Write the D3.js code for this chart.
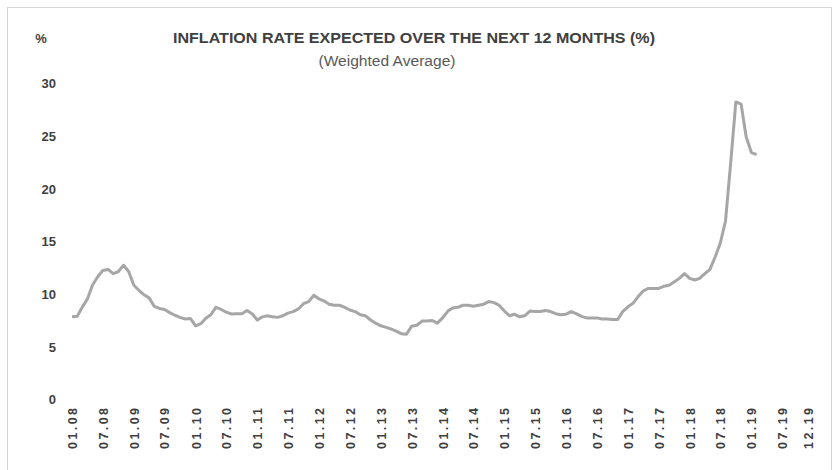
<!DOCTYPE html>
<html>
<head>
<meta charset="utf-8">
<script src="https://cdn.jsdelivr.net/npm/d3@7"></script>
<style>
  html, body { margin: 0; padding: 0; background: #fff; }
  svg { display: block; }
  text { font-family: "Liberation Sans", Arial, sans-serif; }
</style>
</head>
<body>
<svg id="chart" width="836" height="470"></svg>
<script>
// monthly series, first point is 01.08
var firstMonth = "01.08";
var expectations = [
    7.8, 7.85, 8.7, 9.5, 10.8, 11.6, 12.2, 12.3, 11.9, 12.1, 12.7, 12.1,
    10.8, 10.3, 9.9, 9.6, 8.8, 8.6, 8.5, 8.2, 7.95, 7.75, 7.6, 7.65,
    6.95, 7.15, 7.65, 8.0, 8.7, 8.5, 8.25, 8.07, 8.1, 8.1, 8.4, 8.1,
    7.5, 7.8, 7.9, 7.8, 7.75, 7.9, 8.15, 8.3, 8.55, 9.05, 9.25, 9.85,
    9.5, 9.3, 9.0, 8.9, 8.9, 8.7, 8.45, 8.3, 8.0, 7.9, 7.5, 7.2,
    6.95, 6.8, 6.65, 6.45, 6.2, 6.15, 6.9, 7.0, 7.4, 7.4, 7.45, 7.2,
    7.7, 8.35, 8.65, 8.7, 8.9, 8.9, 8.8, 8.9, 9.0, 9.25, 9.15, 8.9,
    8.35, 7.9, 8.05, 7.8, 7.9, 8.35, 8.3, 8.3, 8.4, 8.3, 8.1, 8.0,
    8.05, 8.3, 8.1, 7.85, 7.7, 7.7, 7.7, 7.6, 7.6, 7.55, 7.55, 8.3,
    8.75, 9.1, 9.7, 10.25, 10.5, 10.5, 10.5, 10.7, 10.8, 11.1, 11.45, 11.9,
    11.45, 11.3, 11.45, 11.9, 12.3, 13.5, 14.8, 16.9, 22.5, 28.2, 28.0, 24.9,
    23.4, 23.2
];
var xTickLabels = ["01.08", "07.08", "01.09", "07.09", "01.10", "07.10", "01.11", "07.11",
    "01.12", "07.12", "01.13", "07.13", "01.14", "07.14", "01.15", "07.15",
    "01.16", "07.16", "01.17", "07.17", "01.18", "07.18", "01.19", "07.19", "12.19"];
var yTickValues = [0, 5, 10, 15, 20, 25, 30];
var title = "INFLATION RATE EXPECTED OVER THE NEXT 12 MONTHS (%)";
var subtitle = "(Weighted Average)";
var unitLabel = "%";

var parseMonth = d3.timeParse("%m.%y");
var start = parseMonth(firstMonth);
var data = expectations.map((v, i) => ({ date: d3.timeMonth.offset(start, i), value: v }));

var svg = d3.select("#chart");

// outer frame (bottom edge falls outside the picture)
svg.append("rect")
    .attr("x", 7.5).attr("y", 7.5)
    .attr("width", 824).attr("height", 500)
    .attr("fill", "none")
    .attr("stroke", "#d4d4d4")
    .attr("stroke-width", 1);

var x = d3.scaleTime()
    .domain([parseMonth("01.08"), parseMonth("07.19")])
    .range([72, 782]);
var y = d3.scaleLinear()
    .domain([0, 30])
    .range([399, 83]);

// condensed look: bigger font squeezed to the measured width
svg.append("text")
    .attr("x", 414).attr("y", 43)
    .attr("text-anchor", "middle")
    .attr("font-size", 15.5).attr("font-weight", "bold")
    .attr("fill", "#404040")
    .attr("textLength", 482).attr("lengthAdjust", "spacingAndGlyphs")
    .text(title);

svg.append("text")
    .attr("x", 387).attr("y", 66)
    .attr("text-anchor", "middle")
    .attr("font-size", 14)
    .attr("fill", "#595959")
    .attr("textLength", 137).attr("lengthAdjust", "spacingAndGlyphs")
    .text(subtitle);

svg.append("text")
    .attr("x", 41).attr("y", 43)
    .attr("text-anchor", "middle")
    .attr("font-size", 13).attr("font-weight", "bold")
    .attr("fill", "#404040")
    .text(unitLabel);

// y axis: labels only
var yAxis = d3.axisLeft(y).tickValues(yTickValues).tickSize(0).tickPadding(0);
var gy = svg.append("g").attr("class", "y-axis")
    .attr("transform", "translate(56,0)")
    .call(yAxis);
gy.select(".domain").remove();
gy.selectAll("text")
    .attr("font-family", "Liberation Sans, Arial, sans-serif")
    .attr("font-size", 13).attr("font-weight", "bold")
    .attr("fill", "#404040")
    .attr("dy", "0.36em");

// x axis: rotated labels only
var xAxis = d3.axisBottom(x)
    .tickValues(xTickLabels.map(parseMonth))
    .tickFormat(d3.timeFormat("%m.%y"))
    .tickSize(0);
var gx = svg.append("g").attr("class", "x-axis")
    .attr("transform", "translate(0,408)")
    .call(xAxis);
gx.select(".domain").remove();
gx.selectAll("text")
    .attr("font-family", "Liberation Sans, Arial, sans-serif")
    .attr("font-size", 12.5).attr("font-weight", "bold")
    .attr("fill", "#404040")
    .attr("text-anchor", "end")
    .attr("transform", "rotate(-90)")
    .attr("x", 0).attr("y", 0).attr("dx", 0).attr("dy", "0.36em")
    .attr("textLength", 41).attr("lengthAdjust", "spacing");

var line = d3.line()
    .x(d => x(d.date))
    .y(d => y(d.value));

svg.append("path")
    .datum(data)
    .attr("fill", "none")
    .attr("stroke", "#a6a6a6")
    .attr("stroke-width", 3)
    .attr("stroke-linejoin", "round")
    .attr("d", line);
</script>
</body>
</html>
